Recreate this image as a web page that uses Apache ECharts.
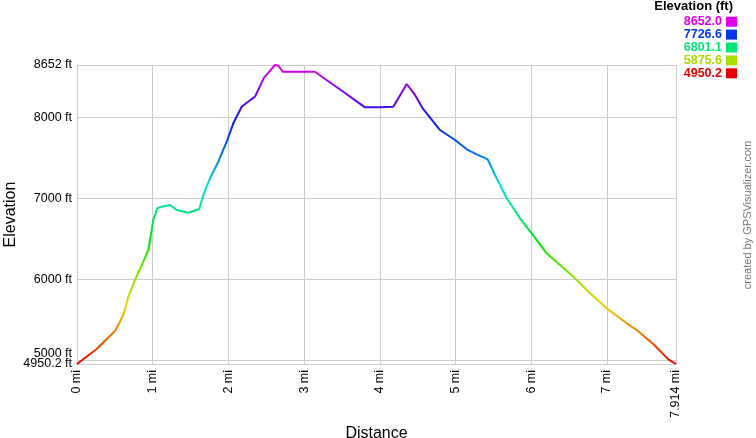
<!DOCTYPE html>
<html>
<head>
<meta charset="utf-8">
<script src="https://cdn.jsdelivr.net/npm/echarts@6/dist/echarts.min.js"></script>
<style>
html,body{margin:0;padding:0;background:#fff;}
#chart{width:756px;height:438px;}
</style>
</head>
<body>
<div id="chart"></div>
<script>
// Distance along track (miles)
const distances = [0, 0.26, 0.502, 0.568, 0.621, 0.678, 0.766, 0.876, 0.942, 0.987, 1.008, 1.061, 1.119, 1.229, 1.317, 1.47, 1.616, 1.669, 1.757, 1.867, 1.978, 2.065, 2.176, 2.242, 2.352, 2.471, 2.541, 2.616, 2.66, 2.718, 3.144, 3.277, 3.518, 3.805, 4.003, 4.179, 4.356, 4.466, 4.567, 4.796, 4.994, 5.149, 5.281, 5.426, 5.523, 5.677, 5.853, 6.007, 6.206, 6.381, 6.557, 6.778, 6.998, 7.262, 7.395, 7.614, 7.812, 7.914];
// Elevation (ft)
const elevations = [4950.2, 5136, 5359, 5474, 5582, 5783, 5990, 6217, 6362, 6609, 6733, 6878, 6898, 6919, 6857, 6823, 6869, 7042, 7249, 7455, 7702, 7930, 8136, 8185, 8260, 8495, 8569, 8652, 8643, 8569, 8569, 8479, 8321, 8128, 8128, 8136, 8417, 8281, 8116, 7847, 7723, 7608, 7546, 7484, 7290, 7002, 6754, 6568, 6321, 6176, 6031, 5825, 5640, 5454, 5371, 5198, 5008, 4950.2];
const xTicks = [0, 1, 2, 3, 4, 5, 6, 7, 7.914];
const yTicks = [4950.2, 5000, 6000, 7000, 8000, 8652];
const yLabelsMain = [4950.2, 6000, 7000, 8000, 8652];
const yLabelsRaised = [5000];
const legendValues = [8652.0, 7726.6, 6801.1, 5875.6, 4950.2];
const legendColors = ['#e000e6', '#0038e6', '#00e676', '#aade00', '#e60000'];
const gradientColors = ['#eb0000', '#eb7500', '#e6d800', '#80e600', '#00e600', '#00e676', '#00e0e0', '#0075eb', '#0020eb', '#7500eb', '#e600e6'];

const yMin = 4950.2, yMax = 8652;
const font = 'Liberation Sans, Arial, sans-serif';

const chart = echarts.init(document.getElementById('chart'), null, {renderer: 'canvas'});

const graphics = [
  {type: 'text', right: 23, top: 0, style: {text: 'Elevation (ft)', font: 'bold 13px ' + font, fill: '#000'}}
];
legendValues.forEach((v, i) => {
  const cy = 21.7 + i * 12.9;
  graphics.push({type: 'text', x: 722, y: cy, style: {text: v.toFixed(1), font: 'bold 12.5px ' + font, fill: legendColors[i], align: 'right', verticalAlign: 'middle'}});
  graphics.push({type: 'rect', shape: {x: 726, y: cy - 5, width: 11, height: 10}, style: {fill: legendColors[i]}});
});
graphics.push({type: 'text', x: 748, y: 215, rotation: Math.PI / 2, style: {text: 'created by GPSVisualizer.com', font: '11px ' + font, fill: '#777', align: 'center', verticalAlign: 'middle'}});

const gridColor = '#cccccc';
const fmtY = v => (Math.abs(v - 4950.2) < 0.01 ? '4950.2' : String(Math.round(v))) + ' ft';

chart.setOption({
  animation: false,
  backgroundColor: '#fff',
  textStyle: {fontFamily: font},
  grid: {left: 77, right: 80, top: 65, bottom: 74, containLabel: false, outerBoundsMode: 'none'},
  graphic: graphics,
  visualMap: {
    type: 'continuous', show: false, dimension: 1, min: yMin, max: yMax, seriesIndex: 0,
    inRange: {color: gradientColors}
  },
  xAxis: {
    type: 'value', min: 0, max: 7.914,
    name: 'Distance', nameLocation: 'middle', nameGap: 62, nameMoveOverlap: false,
    nameTextStyle: {fontSize: 16, color: '#000', fontFamily: font},
    axisLine: {show: true, lineStyle: {color: gridColor}},
    axisTick: {show: false, customValues: xTicks},
    splitLine: {show: true, lineStyle: {color: gridColor, width: 1}},
    axisLabel: {
      customValues: xTicks, rotate: 90, fontSize: 12.5, color: '#000', margin: 6,
      fontFamily: font, hideOverlap: false, showMinLabel: true, showMaxLabel: true,
      formatter: v => (Math.abs(v - 7.914) < 1e-6 ? '7.914' : String(Math.round(v))) + ' mi'
    }
  },
  yAxis: [{
    type: 'value', min: yMin, max: yMax, position: 'left',
    name: 'Elevation', nameLocation: 'middle', nameGap: 58, nameMoveOverlap: false,
    nameTextStyle: {fontSize: 16, color: '#000', fontFamily: font},
    axisLine: {show: true, lineStyle: {color: gridColor}},
    axisTick: {show: false, customValues: yTicks},
    splitLine: {show: true, lineStyle: {color: gridColor, width: 1}},
    axisLabel: {
      customValues: yLabelsMain, fontSize: 12.5, color: '#000', margin: 5, fontFamily: font,
      hideOverlap: false, showMinLabel: true, showMaxLabel: true,
      formatter: fmtY
    }
  }, {
    type: 'value', min: yMin, max: yMax, position: 'left', offset: 0,
    axisLine: {show: false},
    axisTick: {show: false, customValues: yLabelsRaised},
    splitLine: {show: false},
    axisLabel: {
      customValues: yLabelsRaised, fontSize: 12.5, color: '#000', margin: 5, fontFamily: font,
      showMinLabel: true, showMaxLabel: true,
      formatter: v => '{up|' + fmtY(v) + '}',
      rich: {up: {fontSize: 12.5, color: '#000', fontFamily: font, padding: [0, 0, 12, 0]}}
    }
  }],
  series: [{
    type: 'line',
    yAxisIndex: 0,
    data: distances.map((d, i) => [d, elevations[i]]),
    showSymbol: false,
    smooth: false,
    lineStyle: {width: 2}
  }]
});
</script>
</body>
</html>
